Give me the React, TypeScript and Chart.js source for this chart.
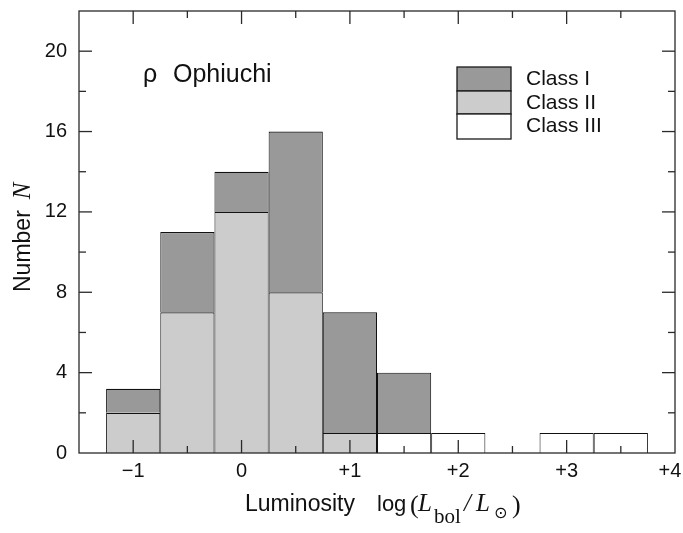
import React, { useEffect, useRef } from "react";
import { Chart, registerables } from "chart.js";

Chart.register(...registerables);

// ---- data ----
const binCenters = [-1, -0.5, 0, 0.5, 1, 1.5, 2, 2.5, 3, 3.5];
const classIII: (number | null)[] = [null, null, null, null, null, 1, 1, null, 1, 1];
const classII: (number | null)[] = [2, 7, 12, 8, 1, null, null, null, null, null];
const classI: (number | null)[] = [1.2, 4, 2, 8, 6, 3, null, null, null, null];
const seriesLabels = ["Class I", "Class II", "Class III"];
const seriesColors = ["#999999", "#cccccc", "#ffffff"];
const xTickValues = [-1, 0, 1, 2, 3, 4];
const xTickLabels = ["\u22121", "0", "+1", "+2", "+3", "+4\u2002"];
const yTickValues = [0, 4, 8, 12, 16, 20];
const yTickLabels = ["0", "4", "8", "12", "16", "20"];
const annotation = ["\u03C1", "Ophiuchi"];

const SANS = '"Liberation Sans", Arial, sans-serif';
const SERIF = '"Liberation Serif", "DejaVu Serif", serif';

const toPoints = (vals: (number | null)[]) =>
  binCenters.map((x, i) => ({ x, y: vals[i] }));

const decorPlugin = {
  id: "decor",
  afterDatasetsDraw(chart: any) {
    const { ctx, chartArea: a, scales } = chart;
    const x = scales.x;
    const y = scales.y;
    ctx.save();
    ctx.strokeStyle = "#2a2a2a";
    ctx.lineWidth = 1.3;
    const line = (x1: number, y1: number, x2: number, y2: number) => {
      ctx.beginPath();
      ctx.moveTo(x1, y1);
      ctx.lineTo(x2, y2);
      ctx.stroke();
    };
    x.ticks.forEach((t: any) => {
      const px = x.getPixelForValue(t.value);
      if (px <= a.left + 1 || px >= a.right - 1) return;
      const len = Number.isInteger(t.value) ? 13 : 7;
      line(px, a.bottom, px, a.bottom - len);
      line(px, a.top, px, a.top + len);
    });
    y.ticks.forEach((t: any) => {
      const py = y.getPixelForValue(t.value);
      if (py <= a.top + 1 || py >= a.bottom - 1) return;
      const len = t.value % 4 === 0 ? 13 : 7;
      line(a.left, py, a.left + len, py);
      line(a.right, py, a.right - len, py);
    });
    ctx.strokeRect(a.left, a.top, a.right - a.left, a.bottom - a.top);
    ctx.restore();
  },
  afterDraw(chart: any) {
    const { ctx } = chart;
    ctx.save();
    ctx.fillStyle = "#111";
    ctx.textBaseline = "alphabetic";
    ctx.textAlign = "left";

    // legend (stacked swatches)
    const lx = 457, lw = 54, rowTops = [67, 91, 114, 139];
    const ds = chart.data.datasets;
    const order = [2, 1, 0]; // Class I, Class II, Class III
    ctx.lineWidth = 1.3;
    ctx.strokeStyle = "#1a1a1a";
    order.forEach((di, r) => {
      const d = ds[di];
      ctx.fillStyle = d.backgroundColor;
      ctx.fillRect(lx, rowTops[r], lw, rowTops[r + 1] - rowTops[r]);
      ctx.strokeRect(lx, rowTops[r], lw, rowTops[r + 1] - rowTops[r]);
      ctx.fillStyle = "#111";
      ctx.font = `21px ${SANS}`;
      ctx.fillText(d.label, 526, rowTops[r] + 18);
    });

    // annotation
    ctx.font = `25px ${SANS}`;
    ctx.fillText(annotation[0], 143, 82);
    ctx.fillText(annotation[1], 173, 82);

    // x title
    const by = 511;
    ctx.font = `23px ${SANS}`;
    ctx.fillText("Luminosity", 245, by);
    ctx.font = `22px ${SANS}`;
    ctx.fillText("log", 377, by);
    ctx.font = `26px ${SERIF}`;
    ctx.fillText("(", 410, by + 2);
    ctx.font = `italic 25px ${SERIF}`;
    ctx.fillText("L", 418, by);
    ctx.font = `21px ${SERIF}`;
    ctx.fillText("bol", 434, by + 12);
    ctx.font = `italic 25px ${SERIF}`;
    ctx.fillText("/", 464, by);
    ctx.fillText("L", 476, by);
    ctx.font = `16px "DejaVu Sans"`;
    ctx.fillText("\u2299", 494, by + 7);
    ctx.font = `26px ${SERIF}`;
    ctx.fillText(")", 512, by + 2);

    // y title
    ctx.translate(30, 292);
    ctx.rotate(-Math.PI / 2);
    ctx.font = `23px ${SANS}`;
    ctx.fillText("Number", 0, 0);
    const w = ctx.measureText("Number").width;
    ctx.font = `italic 25px ${SERIF}`;
    ctx.fillText("N", w + 11, 0);
    ctx.restore();
  },
};

export default function App() {
  const ref = useRef<HTMLCanvasElement | null>(null);
  useEffect(() => {
    if (!ref.current) return;
    const barCommon = {
      borderColor: "#111111",
      borderWidth: { top: 1.2, left: 1, right: 1, bottom: 0 },
      borderSkipped: false as const,
      barPercentage: 1,
      categoryPercentage: 1,
      inflateAmount: 0,
    };
    const chart = new Chart(ref.current, {
      type: "bar",
      data: {
        datasets: [
          { label: seriesLabels[2], data: toPoints(classIII), backgroundColor: seriesColors[2], ...barCommon },
          { label: seriesLabels[1], data: toPoints(classII), backgroundColor: seriesColors[1], ...barCommon },
          { label: seriesLabels[0], data: toPoints(classI), backgroundColor: seriesColors[0], ...barCommon },
        ] as any,
      },
      options: {
        animation: false,
        responsive: false,
        devicePixelRatio: 1,
        layout: { padding: { top: 11, right: 8, left: 0, bottom: 0 } },
        plugins: { legend: { display: false }, tooltip: { enabled: false } },
        scales: {
          x: {
            type: "linear",
            min: -1.5,
            max: 4,
            offset: false,
            stacked: true,
            grid: { display: false, drawTicks: false, offset: false },
            border: { display: false },
            ticks: {
              stepSize: 0.5,
              autoSkip: false,
              maxRotation: 0,
              padding: 6,
              color: "#111",
              font: { family: SANS, size: 20 },
              callback: (v: any) => {
                const i = xTickValues.indexOf(Number(v));
                return i >= 0 ? xTickLabels[i] : "";
              },
            },
            afterFit: (s: any) => {
              s.height = 80;
              s.paddingLeft = 0;
              s.paddingRight = 0;
            },
          },
          y: {
            type: "linear",
            min: 0,
            max: 22,
            stacked: true,
            grid: { display: false, drawTicks: false },
            border: { display: false },
            ticks: {
              stepSize: 2,
              autoSkip: false,
              padding: 12,
              color: "#111",
              font: { family: SANS, size: 20 },
              callback: (v: any) => {
                const i = yTickValues.indexOf(Number(v));
                return i >= 0 ? yTickLabels[i] : "";
              },
            },
            afterFit: (s: any) => {
              s.width = 79;
              s.paddingTop = 0;
              s.paddingBottom = 0;
            },
          },
        },
      } as any,
      plugins: [decorPlugin],
    });
    return () => chart.destroy();
  }, []);
  return (
    <div style={{ position: "absolute", left: 0, top: 0, width: 683, height: 533, background: "#fff" }}>
      <canvas ref={ref} width={683} height={533} />
    </div>
  );
}
